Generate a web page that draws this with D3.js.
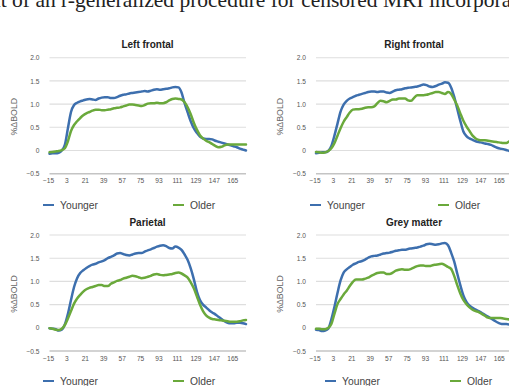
<!DOCTYPE html>
<html>
<head>
<meta charset="utf-8">
<script src="https://cdn.jsdelivr.net/npm/d3@7/dist/d3.min.js"></script>
<style>
  html, body { margin: 0; padding: 0; background: #fff; overflow: hidden; }
  svg { display: block; }
</style>
</head>
<body>
<svg id="chart" width="509" height="386"></svg>
<script>
// Time points (s), sampled every 3 s
const times = d3.range(-15, 178, 3);
const tickLabels = [-15, 3, 21, 39, 57, 75, 93, 111, 129, 147, 165];
const yTicks = [-0.5, 0, 0.5, 1.0, 1.5, 2.0];
const panelTitles = ["Left frontal", "Right frontal", "Parietal", "Grey matter"];
const seriesNames = ["Younger", "Older"];

// %ΔBOLD per region
const leftFrontalYounger = [-0.07,-0.06,-0.06,-0.05,0.0,0.12,0.48,0.83,0.98,1.03,1.06,1.08,1.10,1.11,1.10,1.09,1.12,1.14,1.15,1.15,1.13,1.13,1.15,1.18,1.20,1.21,1.23,1.24,1.25,1.26,1.27,1.28,1.27,1.29,1.31,1.32,1.31,1.32,1.33,1.34,1.36,1.37,1.36,1.25,1.02,0.82,0.63,0.48,0.38,0.30,0.26,0.25,0.25,0.24,0.21,0.19,0.17,0.15,0.13,0.11,0.09,0.07,0.04,0.02,0.0];
const leftFrontalOlder = [-0.04,-0.03,-0.02,-0.01,0.01,0.05,0.20,0.42,0.55,0.63,0.70,0.76,0.80,0.83,0.86,0.88,0.88,0.87,0.87,0.88,0.89,0.91,0.92,0.93,0.95,0.97,0.99,0.99,0.98,0.97,0.96,0.98,1.01,1.02,1.02,1.03,1.02,1.02,1.04,1.08,1.11,1.12,1.11,1.10,1.04,0.93,0.78,0.60,0.45,0.33,0.26,0.21,0.18,0.14,0.10,0.07,0.08,0.11,0.13,0.13,0.13,0.13,0.13,0.13,0.13];
const rightFrontalYounger = [-0.06,-0.05,-0.04,-0.04,-0.01,0.10,0.32,0.58,0.84,0.99,1.07,1.12,1.15,1.18,1.20,1.22,1.24,1.26,1.27,1.27,1.26,1.27,1.27,1.25,1.24,1.27,1.30,1.31,1.32,1.34,1.35,1.36,1.37,1.38,1.40,1.42,1.41,1.38,1.37,1.39,1.42,1.44,1.47,1.46,1.36,1.16,0.90,0.64,0.41,0.31,0.26,0.23,0.20,0.18,0.17,0.15,0.14,0.12,0.09,0.06,0.04,0.03,0.01,-0.01,-0.02];
const rightFrontalOlder = [-0.03,-0.04,-0.05,-0.04,-0.01,0.05,0.16,0.32,0.48,0.62,0.72,0.82,0.88,0.89,0.89,0.90,0.92,0.93,0.93,0.95,1.02,1.07,1.06,1.04,1.07,1.10,1.10,1.12,1.12,1.12,1.08,1.07,1.14,1.19,1.19,1.19,1.20,1.22,1.24,1.26,1.26,1.24,1.22,1.26,1.22,1.10,0.97,0.80,0.64,0.52,0.42,0.32,0.26,0.23,0.22,0.22,0.21,0.20,0.19,0.18,0.17,0.16,0.16,0.20,0.24];
const parietalYounger = [-0.01,-0.02,-0.03,-0.06,-0.04,0.07,0.30,0.60,0.88,1.07,1.18,1.24,1.29,1.33,1.36,1.38,1.41,1.43,1.46,1.50,1.53,1.56,1.60,1.61,1.59,1.57,1.56,1.58,1.60,1.61,1.61,1.64,1.67,1.69,1.72,1.75,1.77,1.78,1.76,1.72,1.71,1.75,1.73,1.68,1.58,1.46,1.28,1.05,0.78,0.60,0.50,0.44,0.38,0.33,0.29,0.24,0.19,0.14,0.11,0.10,0.10,0.11,0.11,0.10,0.08];
const parietalOlder = [-0.01,-0.02,-0.04,-0.05,-0.02,0.06,0.20,0.36,0.52,0.63,0.71,0.78,0.83,0.86,0.88,0.90,0.92,0.92,0.90,0.90,0.95,0.98,1.01,1.03,1.06,1.08,1.10,1.12,1.11,1.09,1.07,1.08,1.10,1.12,1.15,1.16,1.14,1.13,1.14,1.15,1.16,1.18,1.19,1.17,1.13,1.08,0.98,0.85,0.68,0.50,0.36,0.27,0.22,0.19,0.18,0.17,0.16,0.15,0.14,0.13,0.13,0.13,0.14,0.16,0.17];
const greyMatterYounger = [-0.04,-0.05,-0.07,-0.06,-0.02,0.18,0.45,0.75,1.02,1.19,1.26,1.31,1.36,1.39,1.42,1.44,1.47,1.51,1.54,1.55,1.56,1.58,1.60,1.61,1.62,1.64,1.66,1.67,1.68,1.68,1.70,1.71,1.72,1.73,1.75,1.77,1.80,1.81,1.80,1.79,1.80,1.82,1.83,1.78,1.62,1.43,1.17,0.92,0.70,0.56,0.48,0.43,0.39,0.36,0.32,0.28,0.24,0.20,0.16,0.12,0.09,0.08,0.08,0.07,0.05];
const greyMatterOlder = [-0.02,-0.02,-0.03,-0.03,0.0,0.08,0.30,0.51,0.62,0.72,0.80,0.90,0.99,1.04,1.04,1.04,1.06,1.08,1.12,1.15,1.18,1.19,1.19,1.16,1.16,1.19,1.23,1.25,1.26,1.25,1.25,1.27,1.30,1.33,1.34,1.34,1.33,1.33,1.35,1.36,1.37,1.38,1.35,1.31,1.27,1.12,0.92,0.74,0.60,0.51,0.44,0.39,0.36,0.34,0.30,0.26,0.22,0.21,0.21,0.21,0.21,0.20,0.19,0.18,0.17];

const youngerSeries = [leftFrontalYounger, rightFrontalYounger, parietalYounger, greyMatterYounger];
const olderSeries = [leftFrontalOlder, rightFrontalOlder, parietalOlder, greyMatterOlder];

const colors = { Younger: "#3d6fae", Older: "#6aa93b" };
const font = "Liberation Sans, Arial, sans-serif";

const svg = d3.select("#chart");

// Running header line of the page, clipped by the top edge
svg.append("text")
  .attr("x", -10).attr("y", 7.3)
  .attr("font-family", "Liberation Serif, Times New Roman, serif")
  .attr("font-size", 21.5)
  .attr("fill", "#222")
  .text("nt of an r-generalized procedure for censored MRI incorporating");

// Panel layout: plot-area left edge, y of the 2.0 and -0.5 gridlines, and legend placement
const panels = [
  { left: 49.5, top: 57.7, bottom: 173.7, legendY: 205, legend: [43, 173] },
  { left: 316, top: 57.7, bottom: 173.7, legendY: 205, legend: [310, 438] },
  { left: 49.5, top: 235, bottom: 351, legendY: 381, legend: [43, 173] },
  { left: 316, top: 235, bottom: 351, legendY: 381, legend: [325, 450] }
];
const plotWidth = 196.5;

panels.forEach((p, i) => {
  const x = d3.scaleLinear().domain([-15, 177]).range([p.left, p.left + plotWidth]);
  const y = d3.scaleLinear().domain([-0.5, 2.0]).range([p.bottom, p.top]);
  const g = svg.append("g");

  // horizontal gridlines
  g.selectAll("line.grid").data(yTicks).join("line")
    .attr("class", "grid")
    .attr("x1", p.left).attr("x2", p.left + plotWidth)
    .attr("y1", d => y(d)).attr("y2", d => y(d))
    .attr("stroke", d => d === -0.5 ? "#c4c4c4" : "#dedede")
    .attr("stroke-width", d => d === -0.5 ? 1.6 : 1.1);

  // y tick labels
  const yAxis = d3.axisLeft(y).tickValues(yTicks).tickSize(0).tickPadding(0)
    .tickFormat(d => d === 0 ? "0" : d3.format(".1f")(d));
  const ya = g.append("g").attr("transform", `translate(${p.left - 10},0)`).call(yAxis);
  ya.select(".domain").remove();
  ya.selectAll("text").attr("font-family", font).attr("font-size", 6.6).attr("fill", "#555");

  // x tick labels
  const xAxis = d3.axisBottom(x).tickValues(tickLabels).tickSize(0).tickPadding(0).tickFormat(d3.format("d"));
  const xa = g.append("g").attr("transform", `translate(-1.5,${p.bottom + 5})`).call(xAxis);
  xa.select(".domain").remove();
  xa.selectAll("text").attr("font-family", font).attr("font-size", 6.6).attr("fill", "#555");

  // y-axis title
  g.append("text")
    .attr("transform", `translate(${p.left - 33},${(p.top + p.bottom) / 2 + 1}) rotate(-90)`)
    .attr("text-anchor", "middle")
    .attr("font-family", font).attr("font-size", 8.8).attr("fill", "#666")
    .text("%ΔBOLD");

  // panel title
  g.append("text")
    .attr("x", p.left + 98).attr("y", p.top - 9.5)
    .attr("text-anchor", "middle")
    .attr("font-family", font).attr("font-size", 10).attr("font-weight", "bold").attr("fill", "#222")
    .text(panelTitles[i]);

  // data lines
  const line = d3.line().x((d, k) => x(times[k])).y(d => y(d)).curve(d3.curveMonotoneX);
  [["Younger", youngerSeries[i]], ["Older", olderSeries[i]]].forEach(([name, vals]) => {
    g.append("path").datum(vals)
      .attr("d", line)
      .attr("fill", "none")
      .attr("stroke", colors[name])
      .attr("stroke-width", 2.5)
      .attr("stroke-linejoin", "round")
      .attr("stroke-linecap", "round");
  });

  // legend
  seriesNames.forEach((name, k) => {
    const lx = p.legend[k];
    g.append("line")
      .attr("x1", lx).attr("x2", lx + 11)
      .attr("y1", p.legendY).attr("y2", p.legendY)
      .attr("stroke", colors[name]).attr("stroke-width", 2);
    g.append("text")
      .attr("x", lx + 17).attr("y", p.legendY + 3.5)
      .attr("font-family", font).attr("font-size", 10.3).attr("fill", "#444")
      .text(name);
  });
});
</script>
</body>
</html>
